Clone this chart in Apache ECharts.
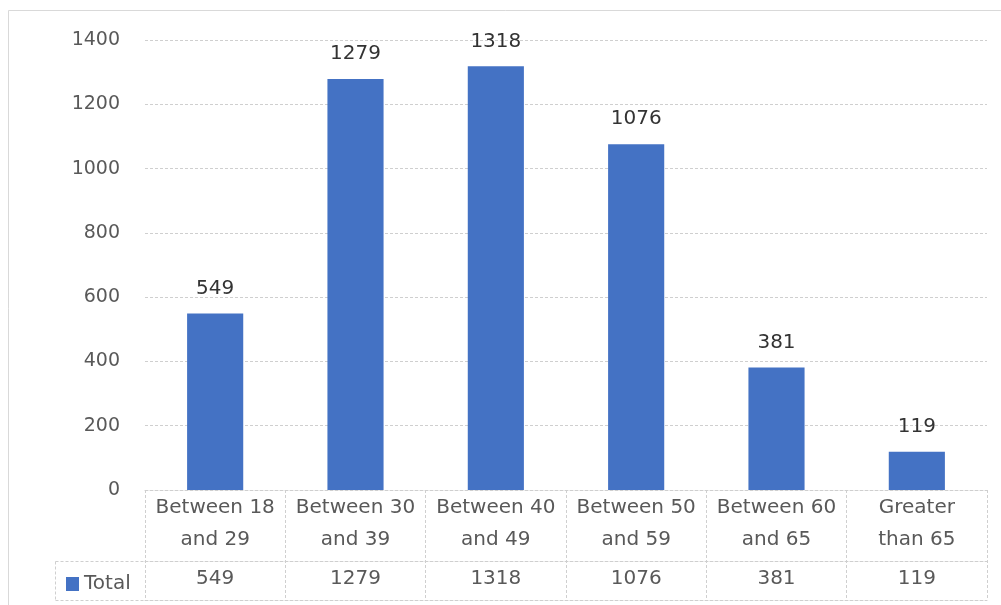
<!DOCTYPE html>
<html lang="en" style="height: 100%">
<head>
  <meta charset="utf-8">
</head>
<body style="height: 100%; margin: 0">
  <div id="container" style="height: 100%"></div>

  <script type="text/javascript" src="https://cdn.jsdelivr.net/npm/echarts@6/dist/echarts.min.js"></script>

  <script type="text/javascript">
    var dom = document.getElementById('container');
    var myChart = echarts.init(dom, null, { renderer: 'canvas' });

    // data
    const categories = [
      'Between 18\nand 29',
      'Between 30\nand 39',
      'Between 40\nand 49',
      'Between 50\nand 59',
      'Between 60\nand 65',
      'Greater\nthan 65'
    ];
    const totals = [549, 1279, 1318, 1076, 381, 119];
    const seriesName = 'Total';

    const font = 'DejaVu Sans';
    const textGray = '#595959';
    const tableLine = { color: '#cfcfcf', type: [3, 2], width: 1 };

    var option = {
      backgroundColor: '#fff',
      textStyle: { fontFamily: font },
      legend: {
        data: [seriesName],
        left: 61,
        top: 569,
        itemWidth: 13,
        itemHeight: 14,
        itemGap: 4,
        icon: 'rect',
        textStyle: { fontSize: 20, color: textGray, fontFamily: font }
      },
      grid: { left: 145, right: 14, top: 40, bottom: 115 },
      xAxis: [
        {
          type: 'category',
          data: categories,
          position: 'bottom',
          axisLine: { show: true, lineStyle: tableLine },
          axisTick: { show: true, length: 110, lineStyle: tableLine },
          axisLabel: {
            interval: 0,
            margin: 2,
            fontSize: 20,
            lineHeight: 32,
            color: textGray,
            fontFamily: font
          }
        },
        {
          type: 'category',
          data: categories,
          position: 'bottom',
          offset: 71,
          axisLine: { show: true, lineStyle: tableLine },
          axisTick: { show: false },
          axisLabel: {
            interval: 0,
            margin: 8,
            fontSize: 20,
            color: textGray,
            fontFamily: font,
            formatter: function (value, index) {
              return String(totals[index]);
            }
          }
        },
        {
          type: 'category',
          data: categories,
          position: 'bottom',
          offset: 110,
          axisLine: { show: true, lineStyle: tableLine },
          axisTick: { show: false },
          axisLabel: { show: false }
        }
      ],
      yAxis: {
        type: 'value',
        min: 0,
        max: 1400,
        interval: 200,
        axisLine: { show: false },
        axisTick: { show: false },
        axisLabel: {
          margin: 25,
          fontSize: 19,
          color: textGray,
          fontFamily: font,
          formatter: function (v) { return String(v); }
        },
        splitLine: { lineStyle: { color: '#cfcfcf', type: [3, 2] } }
      },
      series: [
        {
          name: seriesName,
          type: 'bar',
          data: totals,
          barWidth: '40%',
          itemStyle: { color: '#4472C4' },
          label: {
            show: true,
            position: 'top',
            distance: 15,
            fontSize: 20,
            color: '#333333',
            fontFamily: font
          }
        }
      ],
      graphic: [
        {
          type: 'rect',
          shape: { x: 8.5, y: 10.5, width: 1010, height: 620 },
          style: { fill: 'none', stroke: '#d9d9d9', lineWidth: 1 },
          silent: true
        },
        {
          type: 'line',
          shape: { x1: 55.5, y1: 561.5, x2: 145, y2: 561.5 },
          style: { stroke: '#cfcfcf', lineDash: [3, 2] },
          silent: true
        },
        {
          type: 'line',
          shape: { x1: 55.5, y1: 600.5, x2: 145, y2: 600.5 },
          style: { stroke: '#cfcfcf', lineDash: [3, 2] },
          silent: true
        },
        {
          type: 'line',
          shape: { x1: 55.5, y1: 561.5, x2: 55.5, y2: 600.5 },
          style: { stroke: '#cfcfcf', lineDash: [3, 2] },
          silent: true
        }
      ]
    };

    myChart.setOption(option);
    window.addEventListener('resize', myChart.resize);
  </script>
</body>
</html>
